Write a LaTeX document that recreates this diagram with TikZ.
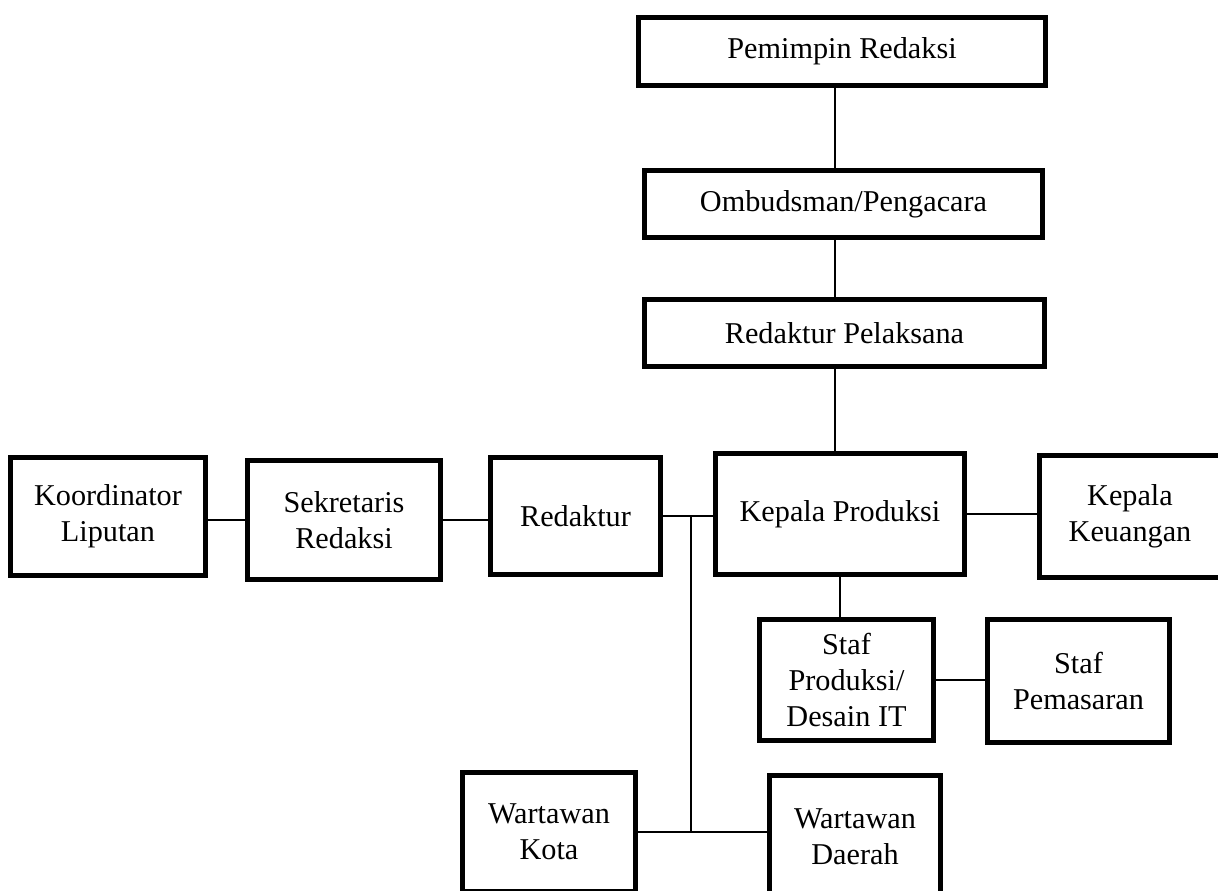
\documentclass[tikz,border=0pt]{standalone}
\usepackage{fontspec}
\setmainfont{Liberation Serif}
\usepackage{tikz}
\usetikzlibrary{positioning,calc}

\tikzset{
    unit/.style={draw, line width=3.5pt, align=center, inner sep=0pt,
        font=\fontsize{21.5}{25.5}\selectfont},
    link/.style={line width=1.2pt}
}

\begin{document}
\begin{tikzpicture}[x=0.025cm, y=-0.025cm]
        \clip (0,0) rectangle (1218,891);
        \node[unit, minimum width=10.18cm, minimum height=1.70cm] (pem) at (842,51.5) {Pemimpin Redaksi};
        \node[unit, minimum width=9.95cm, minimum height=1.68cm] (omb) at (843.5,204) {Ombudsman/Pengacara};
        \node[unit, minimum width=10.00cm, minimum height=1.68cm] (pel) at (844.5,333) {Redaktur Pelaksana};
        \node[unit, minimum width=4.88cm, minimum height=2.95cm] (koor) at (108,516.5) {Koordinator\\Liputan};
        \node[unit, minimum width=4.83cm, minimum height=2.98cm] (sek) at (344,520) {Sekretaris\\Redaksi};
        \node[unit, minimum width=4.25cm, minimum height=2.93cm] (red) at (575.5,516) {Redaktur};
        \node[unit, minimum width=6.23cm, minimum height=3.03cm] (kp) at (840,514) {Kepala Produksi};
        \node[unit, minimum width=4.53cm, minimum height=3.05cm] (keu) at (1130,516.5) {Kepala\\Keuangan};
        \node[unit, minimum width=4.35cm, minimum height=3.03cm] (stp) at (846.5,680) {Staf\\Produksi/\\Desain IT};
        \node[unit, minimum width=4.55cm, minimum height=3.08cm] (pms) at (1078.5,681) {Staf\\Pemasaran};
        \node[unit, minimum width=4.33cm, minimum height=2.98cm] (wk) at (549,832) {Wartawan\\Kota};
        \node[unit, minimum width=4.28cm, minimum height=3.05cm] (wd) at (855,836.5) {Wartawan\\Daerah};

        \coordinate (axis) at (835,0);
        \coordinate (fork) at (691,0 |- red.east);
        \draw[link] (axis |- pem.south) -- (axis |- omb.north);
        \draw[link] (axis |- omb.south) -- (axis |- pel.north);
        \draw[link] (axis |- pel.south) -- (axis |- kp.north);
        \draw[link] (koor.east |- sek.west) -- (sek.west);
        \draw[link] (sek.east) -- (sek.east -| red.west);
        \draw[link] (red.east) -- (red.east -| kp.west);
        \draw[link] (fork) -- (fork |- wk.east);
        \draw[link] (wk.east) -- (wk.east -| wd.west);
        \draw[link] (kp.east) -- (kp.east -| keu.west);
        \draw[link] (kp.south) -- (kp.south |- stp.north);
        \draw[link] (stp.east) -- (stp.east -| pms.west);
    \end{tikzpicture}
\end{document}
